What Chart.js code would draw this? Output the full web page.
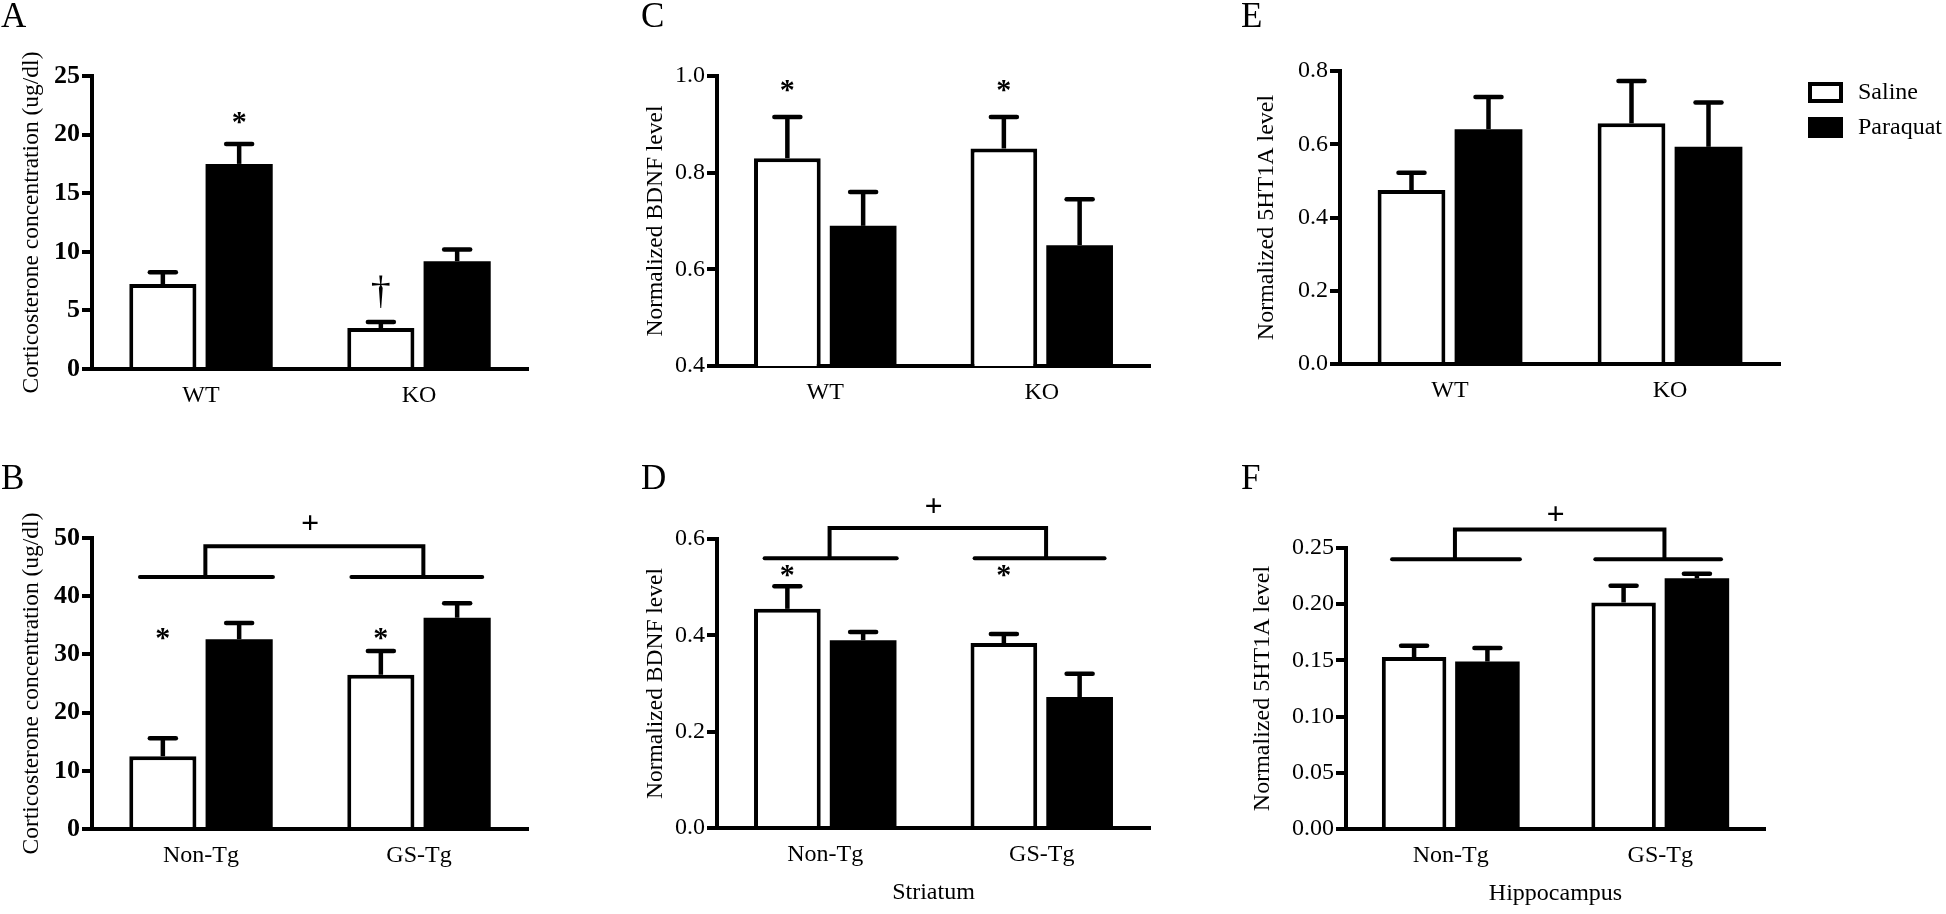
<!DOCTYPE html>
<html>
<head>
<meta charset="utf-8">
<script src="https://cdn.jsdelivr.net/npm/chart.js@4.4.1/dist/chart.umd.min.js"></script>
<style>
  html, body { margin: 0; padding: 0; background: #fff; }
  body { width: 1946px; height: 914px; position: relative; overflow: hidden; }
  .panel { position: absolute; }
</style>
</head>
<body>
<div class="panel" style="left:0px;top:0px;width:640px;height:440px"><canvas id="chartA"></canvas></div>
<div class="panel" style="left:0px;top:440px;width:640px;height:474px"><canvas id="chartB"></canvas></div>
<div class="panel" style="left:640px;top:0px;width:600px;height:440px"><canvas id="chartC"></canvas></div>
<div class="panel" style="left:640px;top:440px;width:600px;height:474px"><canvas id="chartD"></canvas></div>
<div class="panel" style="left:1240px;top:0px;width:706px;height:440px"><canvas id="chartE"></canvas></div>
<div class="panel" style="left:1240px;top:440px;width:706px;height:474px"><canvas id="chartF"></canvas></div>
<script>
const groupsKO = ['WT', 'KO'];
const groupsTg = ['Non-Tg', 'GS-Tg'];
const seriesNames = ['Saline', 'Paraquat'];

// A - corticosterone (ug/dl), WT / KO
const aSaline = [7.25, 3.5];
const aSalineErr = [1.0, 0.5];
const aParaquat = [17.5, 9.2];
const aParaquatErr = [1.7, 1.0];
const aTicks = [0, 5, 10, 15, 20, 25];

// B - corticosterone (ug/dl), Non-Tg / GS-Tg
const bSaline = [12.5, 26.5];
const bSalineErr = [3.1, 4.1];
const bParaquat = [32.6, 36.3];
const bParaquatErr = [2.8, 2.5];
const bTicks = [0, 10, 20, 30, 40, 50];

// C - BDNF, WT / KO
const cSaline = [0.83, 0.85];
const cSalineErr = [0.085, 0.065];
const cParaquat = [0.69, 0.65];
const cParaquatErr = [0.07, 0.095];
const cTicks = [0.4, 0.6, 0.8, 1.0];

// D - BDNF, striatum
const dSaline = [0.455, 0.384];
const dSalineErr = [0.047, 0.019];
const dParaquat = [0.39, 0.272];
const dParaquatErr = [0.017, 0.048];
const dTicks = [0.0, 0.2, 0.4, 0.6];

// E - 5HT1A, WT / KO
const eSaline = [0.475, 0.657];
const eSalineErr = [0.047, 0.116];
const eParaquat = [0.641, 0.593];
const eParaquatErr = [0.088, 0.121];
const eTicks = [0.0, 0.2, 0.4, 0.6, 0.8];

// F - 5HT1A, hippocampus
const fSaline = [0.153, 0.2015];
const fSalineErr = [0.01, 0.015];
const fParaquat = [0.149, 0.223];
const fParaquatErr = [0.012, 0.004];
const fTicks = [0.00, 0.05, 0.10, 0.15, 0.20, 0.25];

// significance marks (category, dataset, y value)
const aStars = [{cat: 0, ds: 1, y: 21.4, text: '*'}, {cat: 1, ds: 0, y: 6.6, text: '\u2020'}];
const bStars = [{cat: 0, ds: 0, y: 33.5, text: '*'}, {cat: 1, ds: 0, y: 33.5, text: '*'}];
const cStars = [{cat: 0, ds: 0, y: 0.98, text: '*'}, {cat: 1, ds: 0, y: 0.98, text: '*'}];
const dStars = [{cat: 0, ds: 0, y: 0.534, text: '*'}, {cat: 1, ds: 0, y: 0.534, text: '*'}];

// group brackets: line level, bracket top, "+" level
const bBracket = {y: 43.3, top: 48.6, plus: 52.6};
const dBracket = {y: 0.56, top: 0.623, plus: 0.67};
const fBracket = {y: 0.240, top: 0.2665, plus: 0.281};

Chart.defaults.font.family = '"Liberation Serif", "Times New Roman", serif';
Chart.defaults.color = '#000';

function glyph(ctx, text, x, yc, font) {
  ctx.font = font;
  ctx.textAlign = 'center';
  ctx.textBaseline = 'alphabetic';
  const m = ctx.measureText(text);
  ctx.fillText(text, x, yc + (m.actualBoundingBoxAscent - m.actualBoundingBoxDescent) / 2);
}

// upward-only SEM bars like the original
const errorBars = {
  id: 'errorBars',
  afterDatasetsDraw(chart) {
    const {ctx} = chart;
    const y = chart.scales.y;
    ctx.save();
    ctx.strokeStyle = '#000';
    ctx.lineWidth = 4.5;
    chart.data.datasets.forEach((ds, i) => {
      chart.getDatasetMeta(i).data.forEach((bar, j) => {
        const top = y.getPixelForValue(ds.data[j]);
        const end = y.getPixelForValue(ds.data[j] + ds.errors[j]);
        ctx.lineCap = 'butt';
        ctx.beginPath();
        ctx.moveTo(bar.x, top);
        ctx.lineTo(bar.x, end);
        ctx.stroke();
        ctx.lineCap = 'round';
        ctx.beginPath();
        ctx.moveTo(bar.x - 13, end);
        ctx.lineTo(bar.x + 13, end);
        ctx.stroke();
      });
    });
    ctx.restore();
  }
};

const marks = {
  id: 'marks',
  afterDraw(chart, args, opts) {
    const {ctx} = chart;
    const x = chart.scales.x, y = chart.scales.y;
    ctx.save();
    ctx.fillStyle = '#000';
    ctx.strokeStyle = '#000';

    ctx.font = '35px "Liberation Serif"';
    ctx.textAlign = 'left';
    ctx.textBaseline = 'top';
    ctx.fillText(opts.letter, 1, opts.letterY);

    (opts.stars || []).forEach(s => {
      const bar = chart.getDatasetMeta(s.ds).data[s.cat];
      const font = s.text === '*' ? 'bold 30px "Liberation Serif"' : '40px "Liberation Serif"';
      glyph(ctx, s.text, bar.x, y.getPixelForValue(s.y), font);
    });

    const b = opts.bracket;
    if (b) {
      const yl = y.getPixelForValue(b.y), yt = y.getPixelForValue(b.top);
      ctx.lineWidth = 4;
      ctx.lineCap = 'round';
      ctx.lineJoin = 'miter';
      [[-0.28, 0.33], [0.69, 1.29]].forEach(([a, c]) => {
        ctx.beginPath();
        ctx.moveTo(x.getPixelForValue(a), yl);
        ctx.lineTo(x.getPixelForValue(c), yl);
        ctx.stroke();
      });
      ctx.lineCap = 'butt';
      ctx.beginPath();
      ctx.moveTo(x.getPixelForValue(0.02), yl);
      ctx.lineTo(x.getPixelForValue(0.02), yt);
      ctx.lineTo(x.getPixelForValue(1.02), yt);
      ctx.lineTo(x.getPixelForValue(1.02), yl);
      ctx.stroke();
      glyph(ctx, '+', x.getPixelForValue(0.5), y.getPixelForValue(b.plus), 'bold 32px "Liberation Serif"');
    }

    const lg = opts.legend;
    if (lg) {
      chart.data.datasets.forEach((ds, i) => {
        const top = lg.y + i * lg.step;
        ctx.fillStyle = ds.backgroundColor;
        ctx.fillRect(lg.x, top, 35, 21);
        if (ds.borderWidth) {
          ctx.strokeStyle = ds.borderColor;
          ctx.lineWidth = ds.borderWidth;
          ctx.strokeRect(lg.x + 2, top + 2, 31, 17);
        }
        ctx.fillStyle = '#000';
        ctx.font = '24px "Liberation Serif"';
        ctx.textAlign = 'left';
        ctx.textBaseline = 'middle';
        ctx.fillText(ds.label, lg.x + 50, top + 10.5);
      });
    }
    ctx.restore();
  }
};

function makeChart(id, p) {
  return new Chart(document.getElementById(id), {
    type: 'bar',
    data: {
      labels: p.labels,
      datasets: [
        {label: seriesNames[0], data: p.saline, errors: p.salineErr, backgroundColor: '#fff',
          borderColor: '#000', borderWidth: 4, borderSkipped: 'start',
          categoryPercentage: 0.70, barPercentage: 0.88},
        {label: seriesNames[1], data: p.paraquat, errors: p.paraquatErr, backgroundColor: '#000',
          borderColor: '#000', borderWidth: 0,
          categoryPercentage: 0.70, barPercentage: 0.88}
      ]
    },
    options: {
      responsive: true,
      maintainAspectRatio: false,
      animation: false,
      events: [],
      layout: {padding: p.padding},
      plugins: {
        legend: {display: false},
        tooltip: {enabled: false},
        marks: {letter: p.letter, letterY: p.letterY, stars: p.stars, bracket: p.bracket, legend: p.legend}
      },
      scales: {
        x: {
          z: 1,
          grid: {display: false},
          border: {display: true, color: '#000', width: 4},
          ticks: {font: {size: 24}, padding: 4, color: '#000'},
          title: {display: !!p.xTitle, text: p.xTitle || '', font: {size: 24}, padding: 0, color: '#000'},
          afterFit: s => { s.height = p.xH; }
        },
        y: {
          z: 1,
          min: p.ticks[0],
          max: p.ticks[p.ticks.length - 1],
          afterBuildTicks: s => { s.ticks = p.ticks.map(v => ({value: v})); },
          grid: {display: true, drawOnChartArea: false, drawTicks: true, tickLength: 10,
            tickWidth: 4, tickColor: '#000', color: '#000', lineWidth: 4},
          border: {display: true, color: '#000', width: 4},
          ticks: {font: p.tickFont, padding: 2, color: '#000',
            callback: v => Number(v).toFixed(p.dec)},
          title: {display: true, text: p.yTitle, font: {size: p.titleSize}, color: '#000',
            padding: {top: p.titlePad, bottom: 0}},
          afterFit: s => { s.width = p.yW; }
        }
      }
    },
    plugins: [errorBars, marks]
  });
}

const cortTitle = 'Corticosterone concentration (ug/dl)';
const bdnfTitle = 'Normalized BDNF level';
const htTitle = 'Normalized 5HT1A level';

makeChart('chartA', {letter: 'A', letterY: 0, labels: groupsKO, saline: aSaline, salineErr: aSalineErr,
  paraquat: aParaquat, paraquatErr: aParaquatErr, ticks: aTicks, dec: 0, yTitle: cortTitle, titleSize: 23.5,
  tickFont: {size: 26, weight: 'bold'}, yW: 92, xH: 40, titlePad: 18,
  padding: {top: 76, right: 112, bottom: 31, left: 0}, stars: aStars});

makeChart('chartB', {letter: 'B', letterY: 22, labels: groupsTg, saline: bSaline, salineErr: bSalineErr,
  paraquat: bParaquat, paraquatErr: bParaquatErr, ticks: bTicks, dec: 0, yTitle: cortTitle, titleSize: 23.5,
  tickFont: {size: 26, weight: 'bold'}, yW: 92, xH: 40, titlePad: 18,
  padding: {top: 98, right: 112, bottom: 45, left: 0}, stars: bStars, bracket: bBracket});

makeChart('chartC', {letter: 'C', letterY: 0, labels: groupsKO, saline: cSaline, salineErr: cSalineErr,
  paraquat: cParaquat, paraquatErr: cParaquatErr, ticks: cTicks, dec: 1, yTitle: bdnfTitle, titleSize: 23.5,
  tickFont: {size: 24}, yW: 77, xH: 40, titlePad: 2,
  padding: {top: 76, right: 90, bottom: 34, left: 0}, stars: cStars});

makeChart('chartD', {letter: 'D', letterY: 22, labels: groupsTg, saline: dSaline, salineErr: dSalineErr,
  paraquat: dParaquat, paraquatErr: dParaquatErr, ticks: dTicks, dec: 1, yTitle: bdnfTitle, titleSize: 23.5,
  xTitle: 'Striatum', tickFont: {size: 24}, yW: 77, xH: 79, titlePad: 2,
  padding: {top: 99, right: 90, bottom: 7, left: 0}, stars: dStars, bracket: dBracket});

makeChart('chartE', {letter: 'E', letterY: 0, labels: groupsKO, saline: eSaline, salineErr: eSalineErr,
  paraquat: eParaquat, paraquatErr: eParaquatErr, ticks: eTicks, dec: 1, yTitle: htTitle, titleSize: 24,
  tickFont: {size: 24}, yW: 100, xH: 40, titlePad: 12.5,
  padding: {top: 71, right: 166, bottom: 36, left: 0}, legend: {x: 568, y: 82, step: 35}});

makeChart('chartF', {letter: 'F', letterY: 22, labels: groupsTg, saline: fSaline, salineErr: fSalineErr,
  paraquat: fParaquat, paraquatErr: fParaquatErr, ticks: fTicks, dec: 2, yTitle: htTitle, titleSize: 24,
  xTitle: 'Hippocampus', tickFont: {size: 24}, yW: 106, xH: 79, titlePad: 8.5,
  padding: {top: 108, right: 181, bottom: 6, left: 0}, bracket: fBracket});
</script>
</body>
</html>
